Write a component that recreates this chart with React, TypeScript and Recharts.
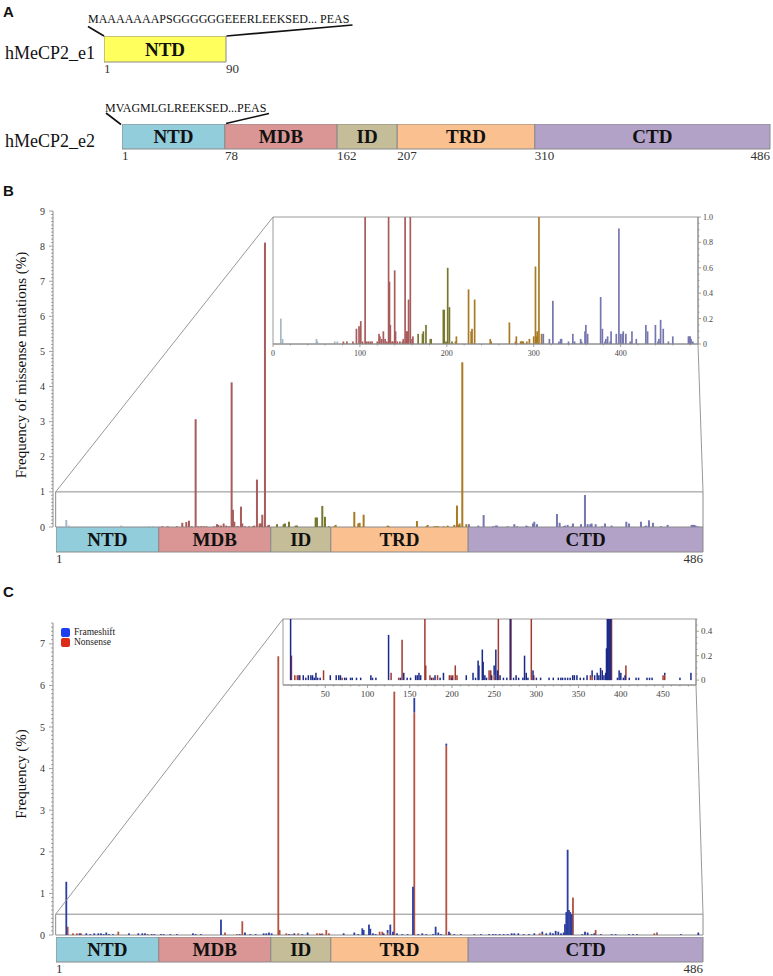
import React from 'react';
import { BarChart, Bar, XAxis, YAxis, ReferenceArea, LabelList, Legend } from 'recharts';

const SERIF = '"Liberation Serif", "Times New Roman", serif';
const SANS = '"Liberation Sans", Arial, sans-serif';
const AXIS = '#8c8c8c';

// MeCP2 domains, e2 numbering
const domainNames = ['NTD', 'MDB', 'ID', 'TRD', 'CTD'];
const domainStarts = [1, 78, 162, 207, 310];
const domainEnds = [78, 162, 207, 310, 486];
const domainColors = ['#92cddc', '#d99694', '#c4bd97', '#fac08f', '#b3a2c7'];

const e1Names = ['NTD'];
const e1Starts = [1];
const e1Ends = [90];
const e1Colors = ['#ffff5e'];

// B: missense mutation frequency (%) by residue
const missensePos = [9, 11, 50, 51, 71, 74, 81, 85, 92, 96, 99, 101, 103, 106, 108, 110, 112, 114, 120, 122,
  123, 125, 127, 129, 131, 133, 134, 135, 137, 138, 140, 141, 143, 146, 149, 150, 152, 154, 155, 156,
  158, 160, 161, 167, 172, 173, 176, 181, 182, 196, 197, 199, 201, 203, 206, 210, 211, 225, 228, 229,
  232, 250, 251, 272, 279, 280, 285, 286, 287, 288, 292, 295, 300, 302, 303, 304, 306, 309, 311, 318,
  322, 329, 331, 332, 340, 345, 347, 354, 355, 359, 360, 362, 377, 379, 382, 383, 385, 388, 389, 395,
  398, 400, 402, 403, 406, 411, 413, 418, 429, 431, 440, 443, 444, 446, 449, 455, 460, 478, 479, 480,
  481, 483];
const missenseFreq = [0.2, 0.04, 0.04, 0.02, 0.02, 0.02, 0.02, 0.02, 0.02, 0.12, 0.14, 0.18, 0.02, 3.07, 0.02, 0.02, 0.02, 0.02, 0.02, 0.08,
  0.06, 0.04, 0.1, 0.04, 0.02, 4.12, 0.49, 0.15, 0.02, 0.02, 0.58, 0.1, 0.02, 0.02, 0.02, 0.04, 1.35, 0.1, 0.1, 0.35,
  8.1, 0.04, 0.06, 0.08, 0.08, 0.1, 0.15, 0.04, 0.04, 0.27, 0.27, 0.02, 0.6, 0.29, 0.02, 0.02, 0.06, 0.43, 0.1, 0.12,
  0.35, 0.04, 0.02, 0.17, 0.02, 0.06, 0.02, 0.02, 0.02, 0.02, 0.02, 0.04, 0.06, 0.61, 0.06, 0.1, 4.69, 0.08, 0.08, 0.04,
  0.34, 0.02, 0.04, 0.04, 0.02, 0.08, 0.02, 0.04, 0.02, 0.1, 0.15, 0.08, 0.37, 0.12, 0.02, 0.04, 0.06, 0.02, 0.1, 0.08,
  0.91, 0.08, 0.08, 0.1, 0.08, 0.02, 0.1, 0.04, 0.15, 0.1, 0.15, 0.02, 0.04, 0.19, 0.12, 0.02, 0.06, 0.06, 0.06, 0.06,
  0.04, 0.02];
const missenseColors = ['#a4b8c6', '#a95c5c', '#77772f', '#a97a24', '#7777b0'];

// C: frameshift / nonsense frequency (%) by residue
const frameshiftPos = [9, 19, 24, 27, 30, 33, 35, 37, 39, 41, 44, 56, 63, 66, 68, 73, 75, 80, 82, 87,
  92, 104, 106, 110, 125, 139, 143, 147, 151, 157, 159, 161, 163, 176, 180, 186, 190, 200, 217, 225,
  228, 231, 232, 236, 237, 239, 241, 247, 250, 252, 254, 257, 261, 265, 269, 270, 273, 276, 279, 284,
  286, 288, 290, 294, 296, 300, 305, 315, 320, 326, 329, 331, 334, 337, 340, 343, 345, 348, 352, 356,
  360, 366, 369, 372, 374, 376, 378, 380, 382, 383, 384, 385, 386, 387, 388, 396, 398, 400, 403, 405,
  410, 418, 421, 431, 434, 437, 452, 470, 483];
const frameshiftFreq = [1.28, 0.04, 0.04, 0.02, 0.04, 0.04, 0.04, 0.02, 0.06, 0.02, 0.02, 0.04, 0.04, 0.04, 0.04, 0.02, 0.02, 0.02, 0.02, 0.02,
  0.02, 0.04, 0.02, 0.02, 0.37, 0.02, 0.06, 0.02, 0.02, 0.04, 0.04, 0.06, 0.04, 0.02, 0.04, 0.02, 0.06, 0.02, 0.04, 0.06,
  0.02, 0.16, 0.12, 0.25, 0.15, 0.04, 0.02, 0.04, 0.08, 0.25, 0.08, 0.04, 0.02, 0.02, 1.16, 0.35, 0.02, 0.04, 0.02, 0.02,
  0.2, 0.06, 0.02, 0.05, 0.08, 0.02, 0.02, 0.02, 0.02, 0.02, 0.02, 0.02, 0.02, 0.02, 0.02, 0.04, 0.04, 0.04, 0.02, 0.02,
  0.04, 0.06, 0.04, 0.06, 0.04, 0.1, 0.08, 0.04, 0.06, 0.26, 0.55, 2.05, 0.6, 0.55, 0.5, 0.02, 0.08, 0.06, 0.02, 0.04,
  0.02, 0.02, 0.02, 0.02, 0.02, 0.02, 0.02, 0.02, 0.06];
const nonsensePos = [10, 14, 17, 20, 48, 70, 128, 137, 141, 168, 169, 174, 178, 183, 197, 199, 201, 204, 206, 244,
  246, 250, 255, 270, 294, 297, 364, 366, 389, 406, 450, 452];
const nonsenseFreq = [0.2, 0.04, 0.04, 0.04, 0.08, 0.02, 0.06, 0.02, 0.33, 6.7, 0.12, 0.04, 0.02, 0.04, 0.04, 0.04, 0.04, 0.12, 0.04, 0.08,
  0.08, 0.04, 5.85, 5.35, 4.55, 0.04, 0.04, 0.02, 0.9, 0.12, 0.04, 0.04];

const seriesNames = ['Frameshift', 'Nonsense'];
const legendColors = ['#1d3ff0', '#dc2b17'];
const mainColors = ['#2c3fa0', '#b5513f'];
const insetColors = ['#1b2a88', '#a0392f'];

// axis ticks
const bYTicks = Array.from({ length: 91 }, (_, i) => i / 10);
const cYTicks = Array.from({ length: 76 }, (_, i) => i / 10);
const insetBYTicks = Array.from({ length: 21 }, (_, i) => i / 20);
const insetBXTicks = Array.from({ length: 25 }, (_, i) => i * 20);
const insetCYTicks = Array.from({ length: 11 }, (_, i) => i / 20);
const insetCXTicks = Array.from({ length: 48 }, (_, i) => (i + 1) * 10);

const missenseRows = missensePos.map((pos, i) => ({ pos, freq: missenseFreq[i] }));
const truncPositions = Array.from(new Set([...frameshiftPos, ...nonsensePos])).sort((a, b) => a - b);
const truncRows = truncPositions.map((pos) => {
  const f = frameshiftPos.indexOf(pos);
  const n = nonsensePos.indexOf(pos);
  return { pos, Frameshift: f >= 0 ? frameshiftFreq[f] : 0, Nonsense: n >= 0 ? nonsenseFreq[n] : 0 };
});

const domainOf = (pos: number) => {
  for (let i = domainStarts.length - 1; i >= 0; i--) if (pos >= domainStarts[i]) return i;
  return 0;
};

// draw bars a little wider than the 1-residue band, centred on the residue
const slimBar = (w: number, color: (p: any) => string) => (p: any) => {
  if (!p.height || p.height <= 0) return <g />;
  const cx = p.x + p.width / 2;
  return <rect x={cx - w / 2} y={p.y} width={w} height={p.height} fill={color(p)} />;
};

const leftTick = (fontSize: number) => (p: any) => {
  const v = p.payload.value;
  const major = Math.abs(v - Math.round(v)) < 1e-6;
  return (
    <g>
      <line x1={p.x - (major ? 4 : 2)} x2={p.x} y1={p.y} y2={p.y} stroke={AXIS} strokeWidth={0.8} />
      {major && (
        <text x={p.x - 8} y={p.y + 3.5} textAnchor="end" fontSize={fontSize} fontFamily={SERIF} fill="#333">
          {Math.round(v)}
        </text>
      )}
    </g>
  );
};

const rightTick = (every: number, fontSize: number) => (p: any) => {
  const v = p.payload.value;
  const major = Math.abs(v / every - Math.round(v / every)) < 1e-6;
  return (
    <g>
      <line x1={p.x} x2={p.x + (major ? 3 : 1.5)} y1={p.y} y2={p.y} stroke={AXIS} strokeWidth={0.8} />
      {major && (
        <text x={p.x + 5} y={p.y + 3} fontSize={fontSize} fontFamily={SERIF} fill="#444">
          {v === 0 ? '0' : v.toFixed(1)}
        </text>
      )}
    </g>
  );
};

const bottomTick = (every: number, fontSize: number) => (p: any) => {
  const v = p.payload.value;
  const major = v % every === 0;
  return (
    <g>
      <line x1={p.x} x2={p.x} y1={p.y} y2={p.y + (major ? 3 : 1.5)} stroke={AXIS} strokeWidth={0.8} />
      {major && (
        <text x={p.x} y={p.y + 12} textAnchor="middle" fontSize={fontSize} fontFamily={SERIF} fill="#444">
          {v}
        </text>
      )}
    </g>
  );
};

interface StripProps {
  names: string[];
  starts: number[];
  ends: number[];
  colors: string[];
  left: number;
  top: number;
  width: number;
  barH: number;
  allTicks: boolean;
  endLast: boolean;
}

const DomainStrip = ({ names, starts, ends, colors, left, top, width, barH, allTicks, endLast }: StripProps) => {
  const row: any = { name: 'protein' };
  names.forEach((n, i) => (row[n] = ends[i] - starts[i]));
  const total = ends[ends.length - 1] - starts[0];
  const ticks = allTicks ? [...starts.map((s) => s - starts[0]), total] : [0, total];
  const pad = 20;
  return (
    <div style={{ position: 'absolute', left, top }}>
      <BarChart width={width + pad} height={barH + 16} data={[row]} layout="vertical" barCategoryGap={0}
        margin={{ top: 0, right: pad, bottom: 0, left: 0 }}>
        <XAxis type="number" domain={[0, total]} ticks={ticks} interval={0} height={16} axisLine={false}
          tickLine={false} tickSize={0} tickMargin={0}
          tick={(p: any) => (
            <text x={p.x} y={p.y + 11} textAnchor={endLast && p.payload.value === total ? 'end' : 'start'}
              fontSize={13} fontFamily={SERIF} fill="#333">
              {p.payload.value + starts[0]}
            </text>
          )} />
        <YAxis type="category" dataKey="name" hide />
        {names.map((n, i) => (
          <Bar key={n} dataKey={n} stackId="d" fill={colors[i]} stroke="#8a8a8a" strokeWidth={1} isAnimationActive={false}>
            <LabelList position="center" formatter={() => n} fill="#111" fontSize={19} fontWeight={700} fontFamily={SERIF} />
          </Bar>
        ))}
      </BarChart>
    </div>
  );
};

// layout of the two main plots (pixels on the page)
const B_TOP = 211, B_H = 316, C_TOP = 623, C_H = 312;
const PLOT_L = 53, PLOT_W = 650, X_MIN = -1, X_MAX = 486.5;
const xPix = (pos: number) => PLOT_L + ((pos - X_MIN) * PLOT_W) / (X_MAX - X_MIN);

export default function App() {
  const bZoomY = B_TOP + B_H - B_H / 9;
  const cZoomY = C_TOP + C_H - (0.5 * C_H) / 7.5;
  return (
    <div style={{ position: 'absolute', left: 0, top: 0, width: 773, height: 976, background: '#fff', fontFamily: SERIF }}>
      {/* A */}
      <DomainStrip names={e1Names} starts={e1Starts} ends={e1Ends} colors={e1Colors} left={104} top={36} width={122} barH={26} allTicks endLast={false} />
      <DomainStrip names={domainNames} starts={domainStarts} ends={domainEnds} colors={domainColors} left={122} top={124} width={648} barH={25} allTicks endLast />

      {/* B main */}
      <div style={{ position: 'absolute', left: 0, top: B_TOP - 10 }}>
        <BarChart width={773} height={B_H + 14} data={missenseRows} margin={{ top: 10, right: 773 - PLOT_L - PLOT_W, bottom: 4, left: 0 }}>
          <XAxis type="number" dataKey="pos" domain={[X_MIN, X_MAX]} hide />
          <YAxis domain={[0, 9]} ticks={bYTicks} interval={0} width={PLOT_L} tickSize={0} tickMargin={0}
            axisLine={{ stroke: AXIS }} tickLine={false} tick={leftTick(10)} allowDataOverflow />
          <ReferenceArea x1={1} x2={X_MAX} y1={0} y2={1} fill="none" stroke={AXIS} strokeWidth={1} />
          <Bar dataKey="freq" isAnimationActive={false}
            shape={slimBar(2, (p) => missenseColors[domainOf(p.payload.pos)])} />
        </BarChart>
      </div>
      <DomainStrip names={domainNames} starts={domainStarts} ends={domainEnds} colors={domainColors} left={56} top={527} width={647} barH={25} allTicks={false} endLast />

      {/* B inset */}
      <div style={{ position: 'absolute', left: 268, top: 212 }}>
        <BarChart width={462} height={150} data={missenseRows} margin={{ top: 5, right: 0, bottom: 2, left: 5 }}>
          <XAxis type="number" dataKey="pos" domain={[0, 489]} ticks={insetBXTicks} interval={0} height={16}
            tickSize={0} tickMargin={0} axisLine={{ stroke: AXIS }} tickLine={false} tick={bottomTick(100, 8)} />
          <YAxis orientation="right" domain={[0, 1]} ticks={insetBYTicks} interval={0} width={32} tickSize={0}
            tickMargin={0} axisLine={{ stroke: AXIS }} tickLine={false} tick={rightTick(0.2, 8)} allowDataOverflow />
          <ReferenceArea x1={0} x2={489} y1={0} y2={1} fill="none" stroke="#9a9a9a" strokeWidth={1} />
          <Bar dataKey="freq" isAnimationActive={false}
            shape={slimBar(1.7, (p) => missenseColors[domainOf(p.payload.pos)])} />
        </BarChart>
      </div>

      {/* C main */}
      <div style={{ position: 'absolute', left: 0, top: C_TOP - 10 }}>
        <BarChart width={773} height={C_H + 14} data={truncRows} margin={{ top: 10, right: 773 - PLOT_L - PLOT_W, bottom: 4, left: 0 }}>
          <XAxis type="number" dataKey="pos" domain={[X_MIN, X_MAX]} hide />
          <YAxis domain={[0, 7.5]} ticks={cYTicks} interval={0} width={PLOT_L} tickSize={0} tickMargin={0}
            axisLine={{ stroke: AXIS }} tickLine={false} tick={leftTick(10)} allowDataOverflow />
          <ReferenceArea x1={1} x2={X_MAX} y1={0} y2={0.5} fill="none" stroke={AXIS} strokeWidth={1} />
          <Bar dataKey="Nonsense" name="Nonsense" stackId="t" fill={mainColors[1]} isAnimationActive={false}
            shape={slimBar(1.8, () => mainColors[1])} />
          <Bar dataKey="Frameshift" name="Frameshift" stackId="t" fill={mainColors[0]} isAnimationActive={false}
            shape={slimBar(1.8, () => mainColors[0])} />
          <Legend layout="vertical" align="center" verticalAlign="middle"
            wrapperStyle={{ left: 61, top: 14, width: 'auto', height: 'auto' }}
            content={() => (
              <div style={{ fontFamily: SERIF, fontSize: 9.5, color: '#222', lineHeight: '10px' }}>
                {seriesNames.map((s, i) => (
                  <div key={s} style={{ display: 'flex', alignItems: 'center', height: 10 }}>
                    <span style={{ display: 'inline-block', width: 9, height: 9, borderRadius: 2, background: legendColors[i], marginRight: 4 }} />
                    {s}
                  </div>
                ))}
              </div>
            )} />
        </BarChart>
      </div>
      <DomainStrip names={domainNames} starts={domainStarts} ends={domainEnds} colors={domainColors} left={56} top={937} width={647} barH={25} allTicks={false} endLast />

      {/* C inset */}
      <div style={{ position: 'absolute', left: 278, top: 614 }}>
        <BarChart width={448} height={89} data={truncRows} margin={{ top: 5, right: 0, bottom: 2, left: 5 }}>
          <XAxis type="number" dataKey="pos" domain={[0, 489]} ticks={insetCXTicks} interval={0} height={16}
            tickSize={0} tickMargin={0} axisLine={{ stroke: AXIS }} tickLine={false} tick={bottomTick(50, 9)} />
          <YAxis orientation="right" domain={[-0.04, 0.5]} ticks={insetCYTicks} interval={0} width={30} tickSize={0}
            tickMargin={0} axisLine={{ stroke: AXIS }} tickLine={false} tick={rightTick(0.2, 9)} allowDataOverflow />
          <ReferenceArea x1={0} x2={489} y1={-0.04} y2={0.5} fill="none" stroke="#9a9a9a" strokeWidth={1} />
          <Bar dataKey="Nonsense" stackId="t" fill={insetColors[1]} isAnimationActive={false}
            shape={slimBar(1.5, () => insetColors[1])} />
          <Bar dataKey="Frameshift" stackId="t" fill={insetColors[0]} isAnimationActive={false}
            shape={slimBar(1.5, () => insetColors[0])} />
        </BarChart>
      </div>

      {/* annotations */}
      <svg width={773} height={976} style={{ position: 'absolute', left: 0, top: 0, pointerEvents: 'none' }}>
        <g fontFamily={SANS} fontWeight={700} fontSize={15} fill="#111">
          <text x={3} y={17}>A</text>
          <text x={3} y={196}>B</text>
          <text x={3} y={597}>C</text>
        </g>
        <g fontFamily={SERIF} fill="#111">
          <text x={5} y={59} fontSize={18}>hMeCP2_e1</text>
          <text x={5} y={147} fontSize={18}>hMeCP2_e2</text>
          <text x={88} y={22.5} fontSize={12}>MAAAAAAAPSGGGGGGEEERLEEKSED... PEAS</text>
          <text x={105} y={111.5} fontSize={12}>MVAGMLGLREEKSED...PEAS</text>
          <text transform={`translate(26, ${B_TOP + B_H / 2 - 4}) rotate(-90)`} textAnchor="middle" fontSize={15}>
            Frequency of missense mutations (%)
          </text>
          <text transform={`translate(26, ${C_TOP + C_H / 2 - 5}) rotate(-90)`} textAnchor="middle" fontSize={15}>
            Frequency (%)
          </text>
        </g>
        <g stroke="#111" strokeWidth={1.6}>
          <line x1={88} y1={26.5} x2={104} y2={36} />
          <line x1={226.5} y1={36} x2={352.5} y2={25} />
          <line x1={106} y1={113} x2={121} y2={124.5} />
          <line x1={226} y1={123.5} x2={269} y2={113.5} />
        </g>
        <g stroke={AXIS} strokeWidth={0.9}>
          <line x1={xPix(1)} y1={bZoomY} x2={273} y2={217} />
          <line x1={xPix(X_MAX)} y1={bZoomY} x2={698} y2={344} />
          <line x1={xPix(1)} y1={cZoomY} x2={283} y2={619} />
          <line x1={xPix(X_MAX)} y1={cZoomY} x2={696} y2={685} />
        </g>
      </svg>
    </div>
  );
}
